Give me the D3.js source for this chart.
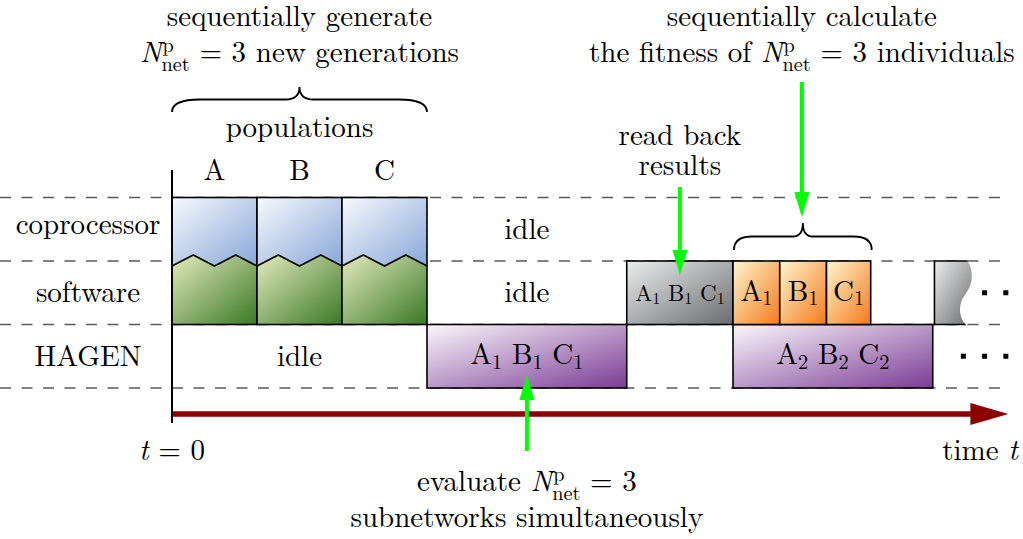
<!DOCTYPE html>
<html><head><meta charset="utf-8">
<script src="https://cdn.jsdelivr.net/npm/d3@7"></script>
<style>
html,body{margin:0;padding:0;background:#fff;}
svg{display:block;}
</style>
</head><body>
<svg id="c" width="1023" height="539"></svg>
<script>
// ---------------- data ----------------
const rows = ["coprocessor", "software", "HAGEN"];
const populations = ["A", "B", "C"];
const popStart = [0, 10, 20];
const popEnd = [10, 20, 30];
const hagenRuns = [{gen: "1", start: 30, end: 53.5}, {gen: "2", start: 66, end: 89.5}];
const readBacks = [{gen: "1", start: 53.5, end: 66}];
const partialReadBack = {start: 89.7, end: 93.6};
const fitnessNames = ["A", "B", "C"];
const fitnessStart = [66, 71.5, 77];
const fitnessEnd = [71.5, 77, 82.2];
const idlePeriods = [
  {row: "coprocessor", start: 30, end: 53.5},
  {row: "software", start: 30, end: 53.5},
  {row: "HAGEN", start: 0, end: 30}
];
const continuation = [{row: "software", count: 2}, {row: "HAGEN", count: 3}];
const timeEnd = 98.4;

// ---------------- setup ----------------
const FONT = "'Latin Modern Roman', 'CMU Serif', 'Liberation Serif', 'DejaVu Serif', 'Times New Roman', serif";
const svg = d3.select("#c").attr("font-family", FONT);
const x = d3.scaleLinear().domain([0, 100]).range([172, 1022]);
const y = d3.scaleBand().domain(rows).range([197.5, 388]);
const FS = 29;

const grads = {
  blue: ["#f7f9fd", "#88a7d8"],
  green: ["#e4eabd", "#397925"],
  purple: ["#fbf8fc", "#7a3b95"],
  gray: ["#eceded", "#6a6b6e"],
  orange: ["#fff6cf", "#f37a1b"]
};
const defs = svg.append("defs");
Object.entries(grads).forEach(([k, c]) => {
  const g = defs.append("linearGradient").attr("id", "g-" + k)
    .attr("x1", 0).attr("y1", 0).attr("x2", 1).attr("y2", 1);
  g.append("stop").attr("offset", 0).attr("stop-color", c[0]);
  g.append("stop").attr("offset", 1).attr("stop-color", c[1]);
});

function txt(sel) {
  return sel.attr("font-family", FONT).attr("fill", "#000");
}

// measure a piece of text
function measure(str, size, italic) {
  const t = svg.append("text").attr("font-family", FONT).attr("font-size", size)
    .attr("xml:space", "preserve").style("white-space", "pre").text(str);
  if (italic) t.attr("font-style", "italic");
  const w = t.node().getComputedTextLength();
  t.remove();
  return w;
}

// one <text> element per line, with positioned tspans for scripts
function rich(parent, cx, yb, segs, size) {
  const pieces = [];
  let cur = 0;
  for (const s of segs) {
    if (s.t !== undefined) {
      pieces.push({str: s.t, x: cur, dy: 0, size, italic: !!s.i});
      cur += measure(s.t, size, s.i);
    } else {
      let w = 0;
      if (s.sup) {
        pieces.push({str: s.sup, x: cur + 1, dy: -size * 0.36, size: size * 0.7});
        w = Math.max(w, measure(s.sup, size * 0.7) + 1);
      }
      if (s.sub) {
        pieces.push({str: s.sub, x: cur, dy: s.sup ? size * 0.32 : size * 0.15, size: size * 0.7});
        w = Math.max(w, measure(s.sub, size * 0.7));
      }
      cur += w;
    }
  }
  const x0 = cx - cur / 2;
  const t = txt(parent.append("text")).attr("font-size", size)
    .attr("xml:space", "preserve").style("white-space", "pre");
  pieces.forEach(p => {
    const ts = t.append("tspan").attr("x", x0 + p.x).attr("y", yb + p.dy)
      .attr("font-size", p.size).text(p.str);
    if (p.italic) ts.attr("font-style", "italic");
  });
  return t;
}
const Nnet = [{t: "N", i: true}, {sup: "p", sub: "net"}];

// ---------------- dashed row lines ----------------
const bounds = [y(rows[0])].concat(rows.map(r => y(r) + y.bandwidth()));
svg.append("g").selectAll("line").data(bounds).join("line")
  .attr("x1", 0).attr("x2", 1006).attr("y1", d => d).attr("y2", d => d)
  .attr("stroke", "#5a5a5a").attr("stroke-width", 1.3).attr("stroke-dasharray", "11,10.5");

// ---------------- row labels ----------------
txt(svg.append("g").selectAll("text").data(rows).join("text"))
  .attr("x", 88).attr("y", (d, i) => y(d) + y.bandwidth() / 2 + (i === 0 ? 5 : 9.5))
  .attr("text-anchor", "middle").attr("font-size", FS).text(d => d);

// ---------------- populations ----------------
const zig = [[0, 5], [0.25, -6], [0.5, 5], [0.75, -6], [1, 5]];
const yc = y("coprocessor"), ys = y("software"), yh = y("HAGEN");
const popG = svg.append("g");
populations.forEach((p, i) => {
  const x0 = x(popStart[i]), x1 = x(popEnd[i]);
  const zp = zig.map(([f, o]) => [x0 + f * (x1 - x0), ys + o]);
  const zigStr = zp.map(q => q.join(",")).join(" L");
  popG.append("path").attr("d", `M${x0},${yc} L${x1},${yc} L${zp.slice().reverse().map(q => q.join(",")).join(" L")} Z`)
    .attr("fill", "url(#g-blue)");
  popG.append("path").attr("d", `M${zigStr} L${x1},${yh} L${x0},${yh} Z`)
    .attr("fill", "url(#g-green)");
  popG.append("path").attr("d", `M${zigStr}`).attr("fill", "none").attr("stroke", "#000").attr("stroke-width", 1.6);
  popG.append("rect").attr("x", x0).attr("y", yc).attr("width", x1 - x0).attr("height", yh - yc)
    .attr("fill", "none").attr("stroke", "#000").attr("stroke-width", 1.6);
  txt(popG.append("text")).attr("x", (x0 + x1) / 2).attr("y", 180).attr("text-anchor", "middle")
    .attr("font-size", FS).text(p);
});

// ---------------- idle labels ----------------
txt(svg.append("g").selectAll("text").data(idlePeriods).join("text"))
  .attr("x", d => x((d.start + d.end) / 2)).attr("y", d => y(d.row) + y.bandwidth() / 2 + 9.5)
  .attr("text-anchor", "middle").attr("font-size", FS).text("idle");

// ---------------- HAGEN runs ----------------
hagenRuns.forEach(r => {
  svg.append("rect").attr("x", x(r.start)).attr("y", yh).attr("width", x(r.end) - x(r.start)).attr("height", y.bandwidth())
    .attr("fill", "url(#g-purple)").attr("stroke", "#000").attr("stroke-width", 1.6);
  rich(svg, x((r.start + r.end) / 2), yh + y.bandwidth() / 2 + 8,
    [{t: "A"}, {sub: r.gen}, {t: " B"}, {sub: r.gen}, {t: " C"}, {sub: r.gen}], FS);
});

// ---------------- read back ----------------
readBacks.forEach(r => {
  svg.append("rect").attr("x", x(r.start)).attr("y", ys).attr("width", x(r.end) - x(r.start)).attr("height", y.bandwidth())
    .attr("fill", "url(#g-gray)").attr("stroke", "#000").attr("stroke-width", 1.6);
  rich(svg, x((r.start + r.end) / 2), ys + y.bandwidth() / 2 + 8,
    [{t: "A"}, {sub: r.gen}, {t: " B"}, {sub: r.gen}, {t: " C"}, {sub: r.gen}], 23);
});
{
  const x0 = x(partialReadBack.start), w = x(partialReadBack.end), yt = ys, yb = yh;
  svg.append("path").attr("d",
    `M${x0},${yt} L${w},${yt} C${w + 6},${yt + 10} ${w + 6},${yt + 22} ${w - 2},${yt + 33} C${w - 10},${yt + 43} ${w - 9},${yt + 56} ${w - 2},${yb} L${x0},${yb} Z`)
    .attr("fill", "url(#g-gray)");
  svg.append("path").attr("d", `M${w},${yt} L${x0},${yt} L${x0},${yb} L${w - 2},${yb}`)
    .attr("fill", "none").attr("stroke", "#000").attr("stroke-width", 1.6);
}

// ---------------- fitness ----------------
fitnessNames.forEach((n, i) => {
  const x0 = x(fitnessStart[i]), x1 = x(fitnessEnd[i]);
  svg.append("rect").attr("x", x0).attr("y", ys).attr("width", x1 - x0).attr("height", y.bandwidth())
    .attr("fill", "url(#g-orange)").attr("stroke", "#000").attr("stroke-width", 1.6);
  rich(svg, (x0 + x1) / 2, ys + y.bandwidth() / 2 + 8, [{t: n}, {sub: "1"}], FS);
});

// ---------------- continuation dots ----------------
continuation.forEach(c => {
  for (let k = 0; k < c.count; k++) {
    const t = 98.1 - k * 2.5;
    svg.append("rect").attr("x", x(t) - 2.5).attr("y", y(c.row) + y.bandwidth() / 2 - 2.5)
      .attr("width", 5).attr("height", 5).attr("fill", "#000");
  }
});

// ---------------- time axis ----------------
svg.append("line").attr("x1", x(0)).attr("x2", x(0)).attr("y1", 170).attr("y2", 423)
  .attr("stroke", "#000").attr("stroke-width", 2);
const ay = 414;
svg.append("line").attr("x1", x(0) + 1).attr("x2", x(timeEnd) - 34).attr("y1", ay).attr("y2", ay)
  .attr("stroke", "#8b0000").attr("stroke-width", 5.5);
svg.append("path").attr("d", `M${x(timeEnd)},${ay} L${x(timeEnd) - 38},${ay - 11} L${x(timeEnd) - 38},${ay + 11} Z`)
  .attr("fill", "#8b0000");
rich(svg, x(0), 460, [{t: "t", i: true}, {t: " = 0"}], FS);
rich(svg, 980, 460, [{t: "time "}, {t: "t", i: true}], FS);

// ---------------- braces ----------------
function brace(x0, x1, y0, a, rEnd, rTip) {
  const xm = (x0 + x1) / 2, ym = y0 - a / 2, yt = y0 - a;
  return `M${x0},${y0} Q${x0},${ym} ${x0 + rEnd},${ym} L${xm - rTip},${ym} Q${xm},${ym} ${xm},${yt} Q${xm},${ym} ${xm + rTip},${ym} L${x1 - rEnd},${ym} Q${x1},${ym} ${x1},${y0}`;
}
svg.append("path").attr("d", brace(x(popStart[0]), x(popEnd[2]), 112, 25, 28, 14))
  .attr("fill", "none").attr("stroke", "#000").attr("stroke-width", 1.8);
svg.append("path").attr("d", brace(x(fitnessStart[0]) + 1, x(fitnessEnd[2]) + 1, 250, 27, 18, 10))
  .attr("fill", "none").attr("stroke", "#000").attr("stroke-width", 1.8);

// ---------------- annotation text ----------------
const popMid = x((popStart[0] + popEnd[2]) / 2);
rich(svg, popMid, 26, [{t: "sequentially generate"}], FS);
rich(svg, popMid, 62, Nnet.concat([{t: " = 3 new generations"}]), FS);
rich(svg, popMid, 137, [{t: "populations"}], FS);

const fitMid = x((fitnessStart[0] + fitnessEnd[2]) / 2);
rich(svg, fitMid, 26, [{t: "sequentially calculate"}], FS);
rich(svg, fitMid, 62, [{t: "the fitness of "}].concat(Nnet, [{t: " = 3 individuals"}]), FS);

const rbMid = x((readBacks[0].start + readBacks[0].end) / 2);
rich(svg, rbMid, 145, [{t: "read back"}], FS);
rich(svg, rbMid, 175, [{t: "results"}], FS);

const evMid = x((hagenRuns[0].start + hagenRuns[0].end) / 2);
rich(svg, evMid, 491, [{t: "evaluate "}].concat(Nnet, [{t: " = 3"}]), FS);
rich(svg, evMid, 527, [{t: "subnetworks simultaneously"}], FS);

// ---------------- green arrows ----------------
function garrow(xa, yFrom, yTip) {
  const dir = yTip > yFrom ? 1 : -1, hl = 25, hw = 7.5;
  svg.append("line").attr("x1", xa).attr("x2", xa).attr("y1", yFrom).attr("y2", yTip - dir * hl + dir)
    .attr("stroke", "#00ff00").attr("stroke-width", 4);
  svg.append("path").attr("d", `M${xa},${yTip} L${xa - hw},${yTip - dir * hl} L${xa + hw},${yTip - dir * hl} Z`)
    .attr("fill", "#00ff00");
}
garrow(rbMid, 187, 275);
garrow(fitMid, 82, 217);
garrow(evMid, 451, 375);
</script>
</body></html>
